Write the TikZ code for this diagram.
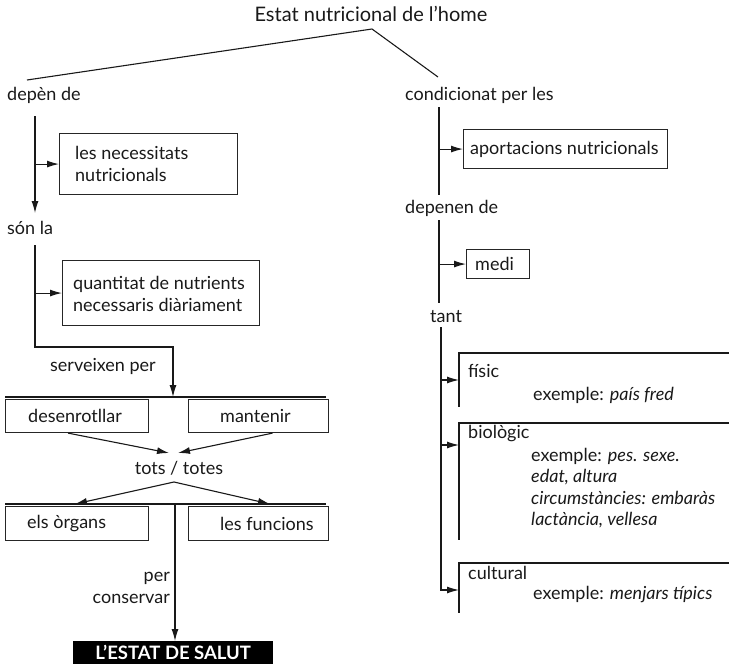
\documentclass[tikz,border=0pt]{standalone}
\usepackage{fontspec}
\setmainfont{Lato}
\usetikzlibrary{arrows.meta,calc}
\begin{document}
\begin{tikzpicture}[x=1pt,y=-1pt,
  txt/.style={inner sep=0pt, anchor=west, align=left, font=\fontsize{18}{22}\selectfont, text=black!90},
  ln/.style={draw=black!90, line width=1.1pt},
  arr/.style={ln, -{Latex[length=12pt,width=7pt]}},
  bx/.style={draw=black!85, line width=1.1pt, anchor=north west, inner sep=0pt},
]
\useasboundingbox (0,0) rectangle (729,667);

% title
\node[inner sep=0pt, font=\fontsize{20}{24}\selectfont, text=black!90] (title) at (371,14) {Estat nutricional de l'home};
\coordinate (apex) at (372,29);
\coordinate (lend) at (27,80);
\coordinate (rend) at (438,77);
\draw[ln] (lend) -- (apex) -- (rend);

% ---------- left column ----------
\node[txt] (dep) at (7,95) {depèn de};
\coordinate (v1a) at (35,116);
\coordinate (v1b) at (35,213);
\draw[arr] (v1a) -- (v1b);
\node[bx, minimum width=178pt, minimum height=61pt] (nec) at (59,133) {};
\node[txt] (nect) at ($(nec.west)+(16,0)$) {les necessitats\\nutricionals};
\draw[arr] (nec.west -| v1a) -- (nec.west);

\node[txt] (sonla) at (7,228) {són la};
\coordinate (v2a) at (35,245);
\coordinate (v2b) at (35,347);
\coordinate (v2c) at (173,347);
\node[bx, minimum width=197pt, minimum height=65pt] (qua) at (62,260) {};
\node[txt] (quat) at ($(qua.west)+(11,1)$) {quantitat de nutrients\\necessaris diàriament};
\draw[arr] (qua.west -| v2a) -- (qua.west);

\node[txt] (serv) at (50,366) {serveixen per};
\coordinate (topl) at (5,397);
\coordinate (topr) at (326,397);
\draw[ln] (topl) -- (topr);
\draw[arr] (v2a) -- (v2b) -- (v2c) -- (v2c |- topl);

\node[bx, minimum width=143pt, minimum height=33pt] (des) at (5,399) {};
\node[txt] (dest) at ($(des.west)+(23,0)$) {desenrotllar};
\node[bx, minimum width=140pt, minimum height=33pt] (man) at (188,399) {};
\node[txt] (mant) at ($(man.west)+(32,0)$) {mantenir};

\node[txt, anchor=center] (tots) at (179,468) {tots / totes};
\coordinate (jn) at (173,453);
\draw[arr] ($(des.south)+(-9,0)$) -- ($(jn)+(-4,0)$);
\draw[arr] ($(man.south)+(14,0)$) -- ($(jn)+(5,0)$);

\coordinate (sp) at (174,482);
\coordinate (botl) at (5,504);
\coordinate (botr) at (326,504);
\draw[ln] (botl) -- (botr);
\draw[arr] (sp) -- (75,504);
\draw[arr] (sp) -- (270,504);

\node[bx, minimum width=143pt, minimum height=34pt] (org) at (5,506) {};
\node[txt] (orgt) at ($(org.west)+(22,0)$) {els òrgans};
\node[bx, minimum width=140pt, minimum height=34pt] (fun) at (188,506) {};
\node[txt] (funt) at ($(fun.west)+(32,0)$) {les funcions};

\node[fill=black, text=white, inner sep=0pt, minimum width=200pt, minimum height=23pt, anchor=north west,
  font=\fontsize{18.5}{20}\selectfont\bfseries] (salut) at (73,641) {L'ESTAT DE SALUT};
\coordinate (v3a) at (175,504);
\draw[arr] (v3a) -- (v3a |- salut.north);
\node[txt, anchor=east, align=right] (per) at (170,588) {per\\conservar};

% ---------- right column ----------
\node[txt] (cond) at (405,95) {condicionat per les};
\coordinate (r1a) at (439,107);
\coordinate (r1b) at (439,195);
\draw[ln] (r1a) -- (r1b);
\node[bx, minimum width=204pt, minimum height=39pt] (apor) at (463,129) {};
\node[txt] (aport) at ($(apor.west)+(7,0)$) {aportacions nutricionals};
\draw[arr] (apor.west -| r1a) -- (apor.west);

\node[txt] (depn) at (405,208) {depenen de};
\coordinate (r2a) at (439,220);
\coordinate (r2b) at (439,303);
\draw[ln] (r2a) -- (r2b);
\node[bx, minimum width=63pt, minimum height=29pt] (medi) at (466,249) {};
\node[txt] (medit) at ($(medi.west)+(9,0)$) {medi};
\draw[arr] (medi.west -| r2a) -- (medi.west);

\node[txt] (tant) at (430,317) {tant};
\coordinate (r3a) at (441,327);
\coordinate (r3b) at (441,590);

% open boxes
\coordinate (f1) at (729,353); \coordinate (f2) at (459,353); \coordinate (f3) at (459,407);
\draw[ln] (f1) -- (f2) -- (f3);
\coordinate (b1) at (729,423); \coordinate (b2) at (459,423); \coordinate (b3) at (459,540);
\draw[ln] (b1) -- (b2) -- (b3);
\coordinate (c1) at (729,563); \coordinate (c2) at (459,563); \coordinate (c3) at (459,613);
\draw[ln] (c1) -- (c2) -- (c3);

\coordinate (fin) at (459,380);
\coordinate (bin) at (459,445);
\coordinate (cin) at (459,590);
\draw[arr] (r3a) -- (r3b) -- (cin);
\draw[arr] (fin -| r3a) -- (fin);
\draw[arr] (bin -| r3a) -- (bin);

\node[txt] (fis) at (468,371) {físic};
\node[txt] (fisx) at (533,395) {exemple: \textit{país fred}};
\node[txt] (bio) at (468,434) {biològic};
\node[txt, font=\fontsize{18}{21.3}\selectfont] (biox) at (531,488) {exemple: \textit{pes. sexe.}\\\textit{edat, altura}\\\textit{circumstàncies: embaràs}\\\textit{lactància, vellesa}};
\node[txt] (cul) at (468,573) {cultural};
\node[txt] (culx) at (533,595) {exemple: \textit{menjars típics}};
\end{tikzpicture}
\end{document}
